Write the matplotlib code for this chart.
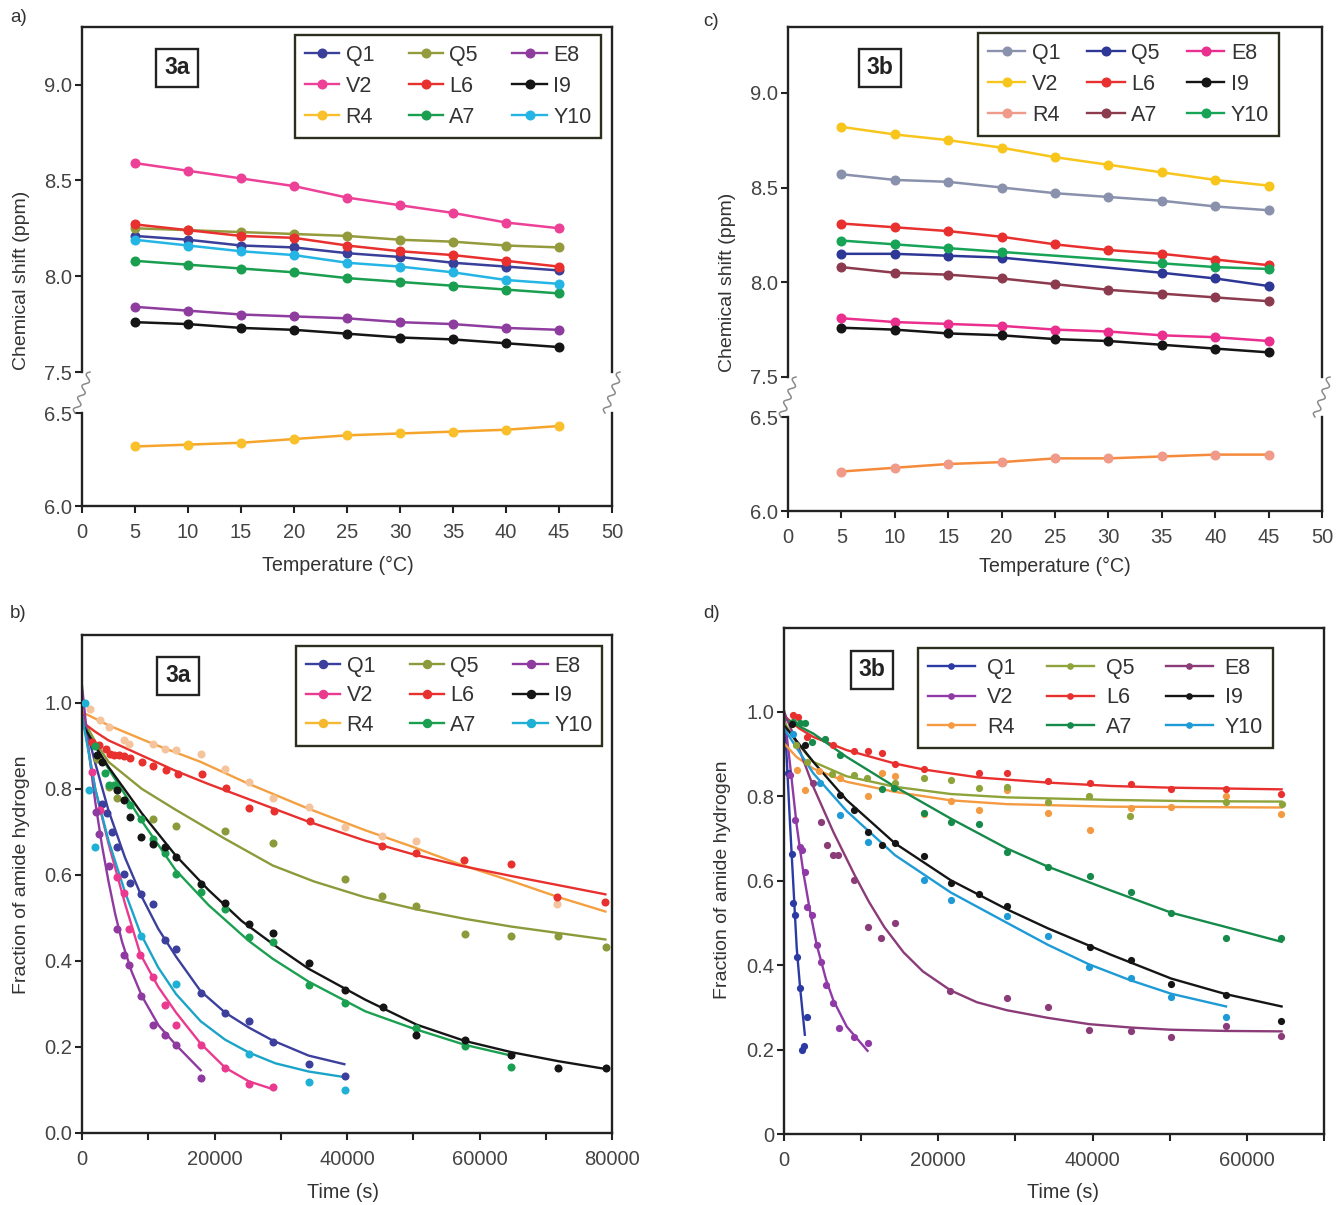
import numpy as np
import matplotlib
matplotlib.use("Agg")
import matplotlib.pyplot as plt
from matplotlib.lines import Line2D
from matplotlib.ticker import MultipleLocator, FixedLocator

plt.rcParams['font.family'] = ['Liberation Sans', 'DejaVu Sans']

W, H = 1337, 1205
labels = ['Q1', 'V2', 'R4', 'Q5', 'L6', 'A7', 'E8', 'I9', 'Y10']

# ---------------- panel a : peptide 3a, chemical shift vs temperature
temp = [5, 10, 15, 20, 25, 30, 35, 40, 45]
a_Q1 = [8.21, 8.19, 8.16, 8.15, 8.12, 8.10, 8.07, 8.05, 8.03]
a_V2 = [8.59, 8.55, 8.51, 8.47, 8.41, 8.37, 8.33, 8.28, 8.25]
a_R4 = [6.32, 6.33, 6.34, 6.36, 6.38, 6.39, 6.40, 6.41, 6.43]
a_Q5 = [8.25, 8.24, 8.23, 8.22, 8.21, 8.19, 8.18, 8.16, 8.15]
a_L6 = [8.27, 8.24, 8.21, 8.20, 8.16, 8.13, 8.11, 8.08, 8.05]
a_A7 = [8.08, 8.06, 8.04, 8.02, 7.99, 7.97, 7.95, 7.93, 7.91]
a_E8 = [7.84, 7.82, 7.80, 7.79, 7.78, 7.76, 7.75, 7.73, 7.72]
a_I9 = [7.76, 7.75, 7.73, 7.72, 7.70, 7.68, 7.67, 7.65, 7.63]
a_Y10 = [8.19, 8.16, 8.13, 8.11, 8.07, 8.05, 8.02, 7.98, 7.96]

# ---------------- panel c : peptide 3b, chemical shift vs temperature
temp_gap = [5, 10, 15, 20, 35, 40, 45]   # Q5 and Y10 have no points at 25, 30
c_Q1 = [8.57, 8.54, 8.53, 8.50, 8.47, 8.45, 8.43, 8.40, 8.38]
c_V2 = [8.82, 8.78, 8.75, 8.71, 8.66, 8.62, 8.58, 8.54, 8.51]
c_R4 = [6.21, 6.23, 6.25, 6.26, 6.28, 6.28, 6.29, 6.30, 6.30]
c_Q5 = [8.15, 8.15, 8.14, 8.13, 8.05, 8.02, 7.98]
c_L6 = [8.31, 8.29, 8.27, 8.24, 8.20, 8.17, 8.15, 8.12, 8.09]
c_A7 = [8.08, 8.05, 8.04, 8.02, 7.99, 7.96, 7.94, 7.92, 7.90]
c_E8 = [7.81, 7.79, 7.78, 7.77, 7.75, 7.74, 7.72, 7.71, 7.69]
c_I9 = [7.76, 7.75, 7.73, 7.72, 7.70, 7.69, 7.67, 7.65, 7.63]
c_Y10 = [8.22, 8.20, 8.18, 8.16, 8.10, 8.08, 8.07]

# ---------------- panel b : peptide 3a, H/D exchange (dots = data, fit = curve)
b_Q1_t = [3020, 3770, 4530, 5280, 6290, 7190, 8950, 10710, 12470, 14230, 17910, 21580, 25150, 28820, 34200, 39640]
b_Q1_f = [0.766, 0.743, 0.700, 0.665, 0.603, 0.581, 0.555, 0.533, 0.448, 0.428, 0.326, 0.279, 0.260, 0.212, 0.160, 0.132]
b_Q1_fit_t = [0, 2000, 4000, 6500, 9000, 11500, 14200, 17900, 21600, 25200, 28800, 34200, 39600]
b_Q1_fit_f = [0.98, 0.86, 0.75, 0.64, 0.55, 0.475, 0.41, 0.33, 0.28, 0.245, 0.215, 0.18, 0.16]

b_V2_t = [1500, 2700, 5280, 6290, 7040, 8800, 10710, 12570, 14230, 17910, 21580, 25150, 28820]
b_V2_f = [0.84, 0.75, 0.595, 0.557, 0.475, 0.413, 0.363, 0.297, 0.250, 0.204, 0.150, 0.113, 0.107]
b_V2_fit_t = [0, 2000, 4000, 6500, 8800, 11500, 14200, 17900, 21600, 25200, 28800]
b_V2_fit_f = [0.98, 0.80, 0.673, 0.533, 0.416, 0.34, 0.28, 0.208, 0.152, 0.12, 0.102]

b_R4_t = [1260, 2770, 4020, 6290, 7040, 10710, 12470, 14230, 17910, 21580, 25150, 28820, 34200, 39640, 45270, 50350, 71750]
b_R4_f = [0.987, 0.96, 0.943, 0.913, 0.905, 0.904, 0.894, 0.890, 0.882, 0.847, 0.816, 0.778, 0.757, 0.712, 0.690, 0.678, 0.533]
b_R4_fit_t = [0, 4000, 10700, 17900, 25150, 34200, 42750, 50000, 57000, 65000, 72000, 79000]
b_R4_fit_f = [0.979, 0.948, 0.905, 0.863, 0.812, 0.754, 0.704, 0.665, 0.625, 0.585, 0.548, 0.515]

b_Q5_t = [2300, 4020, 5280, 10710, 14230, 21580, 28820, 39640, 45270, 50470, 57780, 64760, 71870, 79050]
b_Q5_f = [0.87, 0.805, 0.778, 0.729, 0.713, 0.702, 0.674, 0.591, 0.551, 0.527, 0.462, 0.459, 0.457, 0.432]
b_Q5_fit_t = [0, 2000, 4000, 9050, 14100, 21600, 28800, 35000, 42750, 50500, 57800, 64800, 71900, 79000]
b_Q5_fit_f = [0.967, 0.91, 0.863, 0.800, 0.752, 0.684, 0.622, 0.585, 0.548, 0.52, 0.498, 0.48, 0.465, 0.45]

b_L6_t = [1460, 2540, 3560, 4190, 4830, 5590, 6350, 7170, 9080, 10790, 12700, 14480, 18160, 21780,
          25270, 28950, 34480, 45270, 50350, 57650, 64760, 71750, 78920]
b_L6_f = [0.909, 0.902, 0.894, 0.882, 0.880, 0.878, 0.877, 0.871, 0.863, 0.853, 0.844, 0.834, 0.834, 0.803,
          0.755, 0.749, 0.725, 0.668, 0.650, 0.635, 0.625, 0.549, 0.537]
b_L6_fit_t = [0, 2000, 4000, 9000, 14000, 19000, 24000, 29000, 34000, 42700, 50000, 57000, 65000, 72000, 79000]
b_L6_fit_f = [0.956, 0.933, 0.913, 0.878, 0.843, 0.812, 0.783, 0.754, 0.725, 0.68, 0.648, 0.622, 0.597, 0.576, 0.555]

b_A7_t = [2000, 3520, 4020, 4800, 7190, 8950, 10710, 12470, 14230, 17910, 21580, 25150, 28820, 34200, 39640, 50470, 57780, 64760]
b_A7_f = [0.90, 0.836, 0.809, 0.81, 0.762, 0.731, 0.684, 0.650, 0.602, 0.560, 0.522, 0.456, 0.444, 0.343, 0.303, 0.243, 0.202, 0.154]
b_A7_fit_t = [0, 2000, 4000, 9050, 14100, 19100, 25150, 28800, 34200, 42750, 50000, 57800, 64800]
b_A7_fit_f = [0.956, 0.90, 0.847, 0.725, 0.612, 0.53, 0.447, 0.405, 0.352, 0.283, 0.243, 0.205, 0.18]

b_E8_t = [2110, 2520, 4020, 5280, 6290, 7040, 8950, 10710, 12470, 14230, 17910]
b_E8_f = [0.747, 0.696, 0.622, 0.474, 0.413, 0.390, 0.318, 0.250, 0.229, 0.204, 0.129]
b_E8_fit_t = [0, 1000, 2000, 3000, 4000, 5000, 6040, 7500, 9050, 11570, 14230, 17910]
b_E8_fit_f = [1.04, 0.89, 0.77, 0.67, 0.585, 0.51, 0.445, 0.375, 0.318, 0.25, 0.204, 0.146]

b_I9_t = [2260, 3020, 5280, 6290, 7190, 8950, 10710, 12470, 14230, 17910, 21580, 25150, 28820, 34200,
          39640, 45400, 50470, 57780, 64760, 71870, 79050]
b_I9_f = [0.878, 0.863, 0.797, 0.774, 0.735, 0.688, 0.671, 0.665, 0.642, 0.580, 0.535, 0.487, 0.464, 0.395,
          0.333, 0.292, 0.228, 0.216, 0.181, 0.151, 0.151]
b_I9_fit_t = [0, 2000, 4000, 9050, 14100, 19100, 24100, 29200, 34200, 42750, 50500, 57800, 64800, 71900, 79000]
b_I9_fit_f = [0.952, 0.90, 0.851, 0.743, 0.646, 0.565, 0.493, 0.435, 0.382, 0.31, 0.252, 0.214, 0.188, 0.167, 0.149]

b_Y10_t = [500, 1000, 2000, 8950, 14230, 25150, 34200, 39640]
b_Y10_f = [1.0, 0.797, 0.665, 0.457, 0.347, 0.184, 0.119, 0.099]
b_Y10_fit_t = [0, 2000, 4000, 6500, 8800, 11500, 14200, 17900, 21600, 25200, 29200, 34200, 39600]
b_Y10_fit_f = [0.97, 0.80, 0.68, 0.56, 0.465, 0.385, 0.323, 0.26, 0.217, 0.187, 0.162, 0.143, 0.13]

# ---------------- panel d : peptide 3b, H/D exchange
d_Q1_t = [560, 1000, 1210, 1430, 1650, 2080, 2290, 2600, 2940]
d_Q1_f = [0.854, 0.664, 0.546, 0.518, 0.42, 0.345, 0.199, 0.208, 0.278]
d_Q1_fit_t = [0, 350, 780, 1210, 1650, 2080, 2700]
d_Q1_fit_f = [1.0, 0.89, 0.735, 0.59, 0.44, 0.348, 0.235]

d_V2_t = [780, 1430, 2080, 2290, 2730, 3030, 3590, 4240, 4810, 5460, 6320, 7190, 9010, 10830]
d_V2_f = [0.85, 0.743, 0.68, 0.672, 0.621, 0.538, 0.518, 0.447, 0.408, 0.353, 0.311, 0.252, 0.229, 0.215]
d_V2_fit_t = [0, 780, 1650, 2500, 3400, 4240, 5460, 6410, 8140, 10830]
d_V2_fit_f = [1.0, 0.875, 0.73, 0.62, 0.525, 0.448, 0.365, 0.316, 0.254, 0.197]

d_R4_t = [1650, 2730, 4500, 7270, 10830, 12690, 14420, 18100, 21650, 25330, 28920, 34250, 39660, 44930, 50220, 57350, 64490]
d_R4_f = [0.862, 0.814, 0.86, 0.842, 0.80, 0.854, 0.847, 0.757, 0.789, 0.768, 0.814, 0.759, 0.72, 0.771, 0.774, 0.80, 0.757]
d_R4_fit_t = [0, 1600, 3800, 8100, 14400, 21600, 28900, 42300, 53000, 64500]
d_R4_fit_f = [0.925, 0.893, 0.865, 0.834, 0.81, 0.79, 0.781, 0.775, 0.774, 0.773]

d_Q5_t = [1500, 3000, 6200, 9100, 10800, 14400, 18100, 21600, 25300, 28900, 34200, 39600, 44900, 57300, 64500]
d_Q5_f = [0.92, 0.88, 0.852, 0.85, 0.842, 0.83, 0.844, 0.838, 0.82, 0.822, 0.785, 0.80, 0.753, 0.787, 0.781]
d_Q5_fit_t = [0, 1500, 3800, 8100, 14400, 21600, 28900, 42300, 53000, 64500]
d_Q5_fit_f = [0.976, 0.93, 0.881, 0.847, 0.822, 0.805, 0.797, 0.791, 0.788, 0.787]

d_L6_t = [1210, 1860, 2940, 6410, 9090, 10830, 12690, 14420, 18100, 25330, 28920, 34250, 39660, 44930, 50220, 57350, 64490]
d_L6_f = [0.992, 0.988, 0.940, 0.921, 0.907, 0.906, 0.903, 0.877, 0.865, 0.854, 0.855, 0.836, 0.832, 0.828, 0.816, 0.816, 0.805]
d_L6_fit_t = [0, 2000, 3800, 8100, 14400, 18100, 25300, 34200, 42400, 50000, 57300, 64500]
d_L6_fit_f = [0.99, 0.96, 0.94, 0.909, 0.877, 0.863, 0.844, 0.832, 0.824, 0.82, 0.818, 0.816]

d_A7_t = [1210, 2080, 2730, 3590, 5330, 7270, 12690, 14270, 18100, 21650, 25330, 28920, 34250, 39660, 44930, 50220, 57350, 64490]
d_A7_f = [0.976, 0.972, 0.972, 0.929, 0.936, 0.897, 0.816, 0.819, 0.759, 0.739, 0.734, 0.668, 0.631, 0.611, 0.572, 0.523, 0.465, 0.465]
d_A7_fit_t = [0, 3800, 8100, 14400, 21600, 28900, 34200, 42300, 50200, 57300, 64500]
d_A7_fit_f = [0.984, 0.948, 0.893, 0.822, 0.747, 0.676, 0.633, 0.577, 0.524, 0.49, 0.455]

d_E8_t = [3800, 4760, 5540, 6410, 7060, 9090, 10830, 12600, 14420, 21560, 28920, 34250, 39600, 44930, 50220, 57350, 64490]
d_E8_f = [0.83, 0.739, 0.684, 0.66, 0.66, 0.601, 0.489, 0.463, 0.50, 0.339, 0.323, 0.301, 0.246, 0.245, 0.23, 0.255, 0.231]
d_E8_fit_t = [0, 2000, 3800, 6400, 9100, 11000, 13000, 15500, 18000, 21600, 25000, 28900, 34200, 39600, 45000, 50000, 57300, 64500]
d_E8_fit_f = [1.0, 0.91, 0.822, 0.715, 0.615, 0.55, 0.49, 0.43, 0.385, 0.34, 0.312, 0.293, 0.275, 0.26, 0.252, 0.247, 0.244, 0.243]

d_I9_t = [1000, 2730, 7270, 9090, 10830, 12690, 14420, 18100, 21650, 25330, 28920, 39660, 44930, 50220, 57350, 64490]
d_I9_f = [0.97, 0.921, 0.802, 0.767, 0.716, 0.684, 0.688, 0.659, 0.595, 0.568, 0.54, 0.443, 0.412, 0.355, 0.328, 0.267]
d_I9_fit_t = [0, 3800, 8100, 14400, 21600, 28900, 34200, 42300, 50200, 57300, 64500]
d_I9_fit_f = [0.968, 0.881, 0.791, 0.688, 0.601, 0.532, 0.487, 0.425, 0.368, 0.331, 0.302]

d_Y10_t = [1210, 4680, 7270, 10830, 18100, 21650, 28920, 34250, 39540, 44930, 50220, 57350]
d_Y10_f = [0.948, 0.83, 0.755, 0.692, 0.601, 0.554, 0.516, 0.469, 0.396, 0.369, 0.325, 0.278]
d_Y10_fit_t = [0, 3800, 8100, 14400, 21600, 28900, 34200, 39500, 44900, 50200, 57300]
d_Y10_fit_f = [0.96, 0.854, 0.765, 0.66, 0.572, 0.5, 0.448, 0.402, 0.364, 0.332, 0.302]

# ---------------- colours (line, marker)
a_line = ['#3a3f9a', '#ec4196', '#f4a52a', '#939b3d', '#e8302e', '#1a9e4f', '#8e3d9f', '#151515', '#25b5e5']
a_mark = ['#3a3f9a', '#ec4196', '#f9c02c', '#939b3d', '#e8302e', '#1a9e4f', '#8e3d9f', '#151515', '#25b5e5']
c_line = ['#8a91ad', '#f8c51c', '#f58a3b', '#2d3796', '#e8302e', '#8c3b4e', '#ea2f8e', '#151515', '#17a457']
c_mark = ['#8a91ad', '#f8c51c', '#f09a8a', '#2d3796', '#e8302e', '#8c3b4e', '#ea2f8e', '#151515', '#17a457']
b_line = ['#3c3f9c', '#e93a8f', '#f4a040', '#8d9a3b', '#e8302e', '#1aa050', '#8f3aa0', '#151515', '#1ba4c8']
b_mark = ['#3c3f9c', '#e93a8f', '#f6c49c', '#8d9a3b', '#e8302e', '#1aa050', '#8f3aa0', '#151515', '#1fb0d6']
b_leg = ['#3c3f9c', '#e93a8f', '#f5b82e', '#8d9a3b', '#e8302e', '#1aa050', '#8f3aa0', '#151515', '#1fb0d6']
d_line = ['#2b3ba3', '#8f3aa6', '#f49a42', '#8ea33a', '#e8302e', '#158a4a', '#8a3b78', '#151515', '#1e9ad6']

fig = plt.figure(figsize=(W / 100, H / 100), dpi=100)


def px_axes(left, top, right, bottom):
    return fig.add_axes([left / W, 1 - bottom / H, (right - left) / W, (bottom - top) / H])


def style(ax):
    for s in ax.spines.values():
        s.set_color('#222222')
        s.set_linewidth(1.7)
    ax.tick_params(direction='out', length=5, width=1.5, color='#222222',
                   labelcolor='#444444', labelsize=14.5, pad=2)
    ax.tick_params(axis='x', pad=7)
    ax.tick_params(which='minor', direction='out', length=5, width=1.5, color='#222222')


def ftext(x, y, s, **kw):
    fig.text(x / W, 1 - y / H, s, **kw)


def squiggle(xc, ytop, ybot):
    t = np.linspace(0, 1, 120)
    x0, x1 = xc + 8, xc - 7
    bx = x0 + (x1 - x0) * t
    by = ytop + (ybot - ytop) * t
    L = np.hypot(x1 - x0, ybot - ytop)
    nx, ny = -(ybot - ytop) / L, (x1 - x0) / L
    off = 2.8 * np.sin(2 * np.pi * 3.5 * t)
    fig.add_artist(Line2D((bx + nx * off) / W, 1 - (by + ny * off) / H,
                          color='#8a8a8a', lw=1.1, transform=fig.transFigure))


def legend(ax, colors, anchor, ms, hl, hp, cs, lsp=0.5, lw=1.7):
    handles = [Line2D([], [], color=c, marker='o', ms=ms, lw=lw) for c in colors]
    leg = ax.legend(handles, labels, ncol=3, loc='upper left',
                    bbox_to_anchor=(anchor[0] / W, 1 - anchor[1] / H),
                    bbox_transform=fig.transFigure, borderaxespad=0,
                    fontsize=15.5, handlelength=hl, handletextpad=hp,
                    columnspacing=cs, labelspacing=lsp, borderpad=0.45,
                    fancybox=False, framealpha=1, numpoints=1)
    leg.get_frame().set_edgecolor('#2e2e1e')
    leg.get_frame().set_linewidth(1.7)
    for t in leg.get_texts():
        t.set_color('#333333')
    leg.set_zorder(10)


def boxlabel(x, y, s):
    ftext(x, y, s, ha='center', va='center', fontsize=16.5, fontweight='bold', color='#222222',
          bbox=dict(boxstyle='square,pad=0.34', fc='white', ec='#222222', lw=1.7))


def shift_panel(box, ytop, series, xs, lcol, mcol, leg_anchor, leg_colors, tag, tagpos, ylab_pos, xlab_pos, hl, cs):
    left, top, right, y75, y65, bottom = box
    up = px_axes(left, top, right, y75)
    lo = px_axes(left, y65, right, bottom)
    for ax in (up, lo):
        style(ax)
        ax.set_xlim(0, 50)
    up.set_ylim(7.5, ytop)
    lo.set_ylim(6.0, 6.5)
    up.spines['bottom'].set_visible(False)
    lo.spines['top'].set_visible(False)
    up.tick_params(axis='x', bottom=False, labelbottom=False)
    up.yaxis.set_major_locator(FixedLocator([7.5, 8.0, 8.5, 9.0]))
    lo.yaxis.set_major_locator(FixedLocator([6.0, 6.5]))
    for ax in (up, lo):
        ax.yaxis.set_major_formatter(matplotlib.ticker.FormatStrFormatter('%.1f'))
    lo.xaxis.set_major_locator(MultipleLocator(5))
    for y, x, lc, mc in zip(series, xs, lcol, mcol):
        ax = up if max(y) > 7 else lo
        ax.plot(x, y, '-o', color=lc, mfc=mc, mec=mc, ms=6.2, lw=1.8, clip_on=False)
    legend(up, leg_colors, leg_anchor, 6.2, hl, 0.3, cs, lsp=0.47)
    squiggle(left, y75, y65)
    squiggle(right, y75, y65)
    boxlabel(tagpos[0], tagpos[1], tag)
    ftext(ylab_pos[0], ylab_pos[1], 'Chemical shift (ppm)', rotation=90, ha='center', va='center',
          fontsize=14, color='#333333')
    ftext(xlab_pos[0], xlab_pos[1], 'Temperature (\u00b0C)', ha='center', va='center',
          fontsize=14.2, color='#333333')


def hdx_panel(box, ylim, xlim, dots, fits, lcol, mcol, ms, yfmt, xmajor, leg_anchor, leg_colors,
              leg_ms, hl, hp, cs, tag, tagpos, ylab_pos, xlab_pos):
    ax = px_axes(*box)
    style(ax)
    ax.set_xlim(0, xlim)
    ax.set_ylim(0, ylim)
    for (t, f), (ft, ff), lc, mc in zip(dots, fits, lcol, mcol):
        ax.plot(ft, ff, '-', color=lc, lw=1.7, zorder=2)
        ax.plot(t, f, 'o', color=mc, ms=ms, mec='none', zorder=3)
    ax.xaxis.set_major_locator(FixedLocator(xmajor))
    ax.xaxis.set_minor_locator(MultipleLocator(10000))
    ax.xaxis.set_major_formatter(matplotlib.ticker.FuncFormatter(lambda v, p: '%d' % v))
    ax.yaxis.set_major_locator(FixedLocator([0, 0.2, 0.4, 0.6, 0.8, 1.0]))
    ax.yaxis.set_major_formatter(matplotlib.ticker.FuncFormatter(yfmt))
    legend(ax, leg_colors, leg_anchor, leg_ms, hl, hp, cs, lsp=0.4)
    boxlabel(tagpos[0], tagpos[1], tag)
    ftext(ylab_pos[0], ylab_pos[1], 'Fraction of amide hydrogen', rotation=90, ha='center', va='center',
          fontsize=14, color='#333333')
    ftext(xlab_pos[0], xlab_pos[1], 'Time (s)', ha='center', va='center', fontsize=14.2, color='#333333')


# panel a
shift_panel((82, 27, 612, 372, 413, 506), 9.30,
            [a_Q1, a_V2, a_R4, a_Q5, a_L6, a_A7, a_E8, a_I9, a_Y10], [temp] * 9,
            a_line, a_mark, (295, 35), a_mark, '3a', (177, 68), (22, 280), (338, 565), 1.6, 1.6)

# panel c
shift_panel((788, 27, 1322, 377, 417, 511), 9.347,
            [c_Q1, c_V2, c_R4, c_Q5, c_L6, c_A7, c_E8, c_I9, c_Y10],
            [temp, temp, temp, temp_gap, temp, temp, temp, temp, temp_gap],
            c_line, c_mark, (978, 33), c_mark, '3b', (880, 68), (727, 282), (1055, 566), 1.75, 1.25)

# panel b
b_dots = [(b_Q1_t, b_Q1_f), (b_V2_t, b_V2_f), (b_R4_t, b_R4_f), (b_Q5_t, b_Q5_f), (b_L6_t, b_L6_f),
          (b_A7_t, b_A7_f), (b_E8_t, b_E8_f), (b_I9_t, b_I9_f), (b_Y10_t, b_Y10_f)]
b_fits = [(b_Q1_fit_t, b_Q1_fit_f), (b_V2_fit_t, b_V2_fit_f), (b_R4_fit_t, b_R4_fit_f),
          (b_Q5_fit_t, b_Q5_fit_f), (b_L6_fit_t, b_L6_fit_f), (b_A7_fit_t, b_A7_fit_f),
          (b_E8_fit_t, b_E8_fit_f), (b_I9_fit_t, b_I9_fit_f), (b_Y10_fit_t, b_Y10_fit_f)]
hdx_panel((82, 635, 612, 1133), 1.158, 80000, b_dots, b_fits, b_line, b_mark, 5.8,
          lambda v, p: '%.1f' % v, [0, 20000, 40000, 60000, 80000],
          (296, 646), b_leg, 5.8, 1.6, 0.3, 1.6, '3a', (178, 676), (22, 875), (343, 1193))

# panel d
d_dots = [(d_Q1_t, d_Q1_f), (d_V2_t, d_V2_f), (d_R4_t, d_R4_f), (d_Q5_t, d_Q5_f), (d_L6_t, d_L6_f),
          (d_A7_t, d_A7_f), (d_E8_t, d_E8_f), (d_I9_t, d_I9_f), (d_Y10_t, d_Y10_f)]
d_fits = [(d_Q1_fit_t, d_Q1_fit_f), (d_V2_fit_t, d_V2_fit_f), (d_R4_fit_t, d_R4_fit_f),
          (d_Q5_fit_t, d_Q5_fit_f), (d_L6_fit_t, d_L6_fit_f), (d_A7_fit_t, d_A7_fit_f),
          (d_E8_fit_t, d_E8_fit_f), (d_I9_fit_t, d_I9_fit_f), (d_Y10_fit_t, d_Y10_fit_f)]
hdx_panel((784, 628, 1324, 1134), 1.198, 70000, d_dots, d_fits, d_line, d_line, 5.2,
          lambda v, p: '0' if v == 0 else '%.1f' % v, [0, 20000, 40000, 60000],
          (918, 648), d_line, 3.8, 2.2, 0.55, 1.45, '3b', (872, 670), (722, 880), (1063, 1193))

# panel letters
for s, x, y in [('a)', 10, 18), ('b)', 10, 614), ('c)', 703, 22), ('d)', 703, 614)]:
    ftext(x, y, s, ha='left', va='center', fontsize=13.5, color='#333333')

fig.savefig('out.png', dpi=100)
